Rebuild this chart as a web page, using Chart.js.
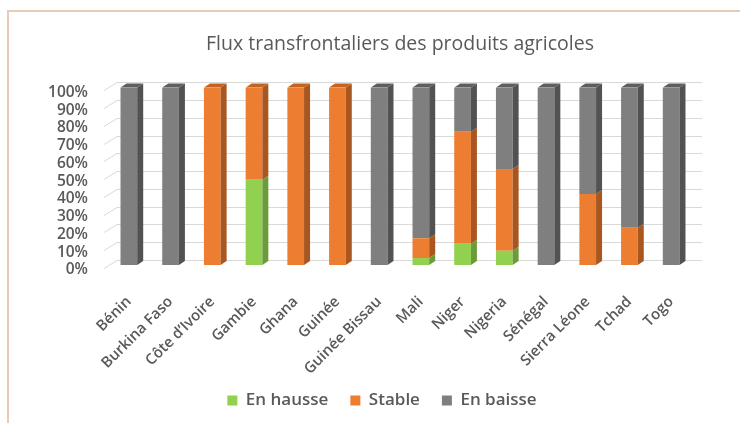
<!DOCTYPE html>
<html>
<head>
<meta charset="utf-8">
<script src="https://cdn.jsdelivr.net/npm/chart.js@4.4.1/dist/chart.umd.min.js"></script>
<style>
  body { margin: 0; background: #fff; }
  #wrap { position: relative; width: 740px; height: 423px; overflow: hidden; }
  /* le cadre pêche autour du graphique */
  #cadre { position: absolute; left: 7px; top: 10px; width: 800px; height: 500px;
    border-left: 2px solid #E8CBB7; border-top: 2px solid #E8CBB7; }
  canvas { position: absolute; left: 0; top: 0; }
</style>
</head>
<body>
<div id="wrap">
  <div id="cadre"></div>
  <canvas id="mainChart" width="740" height="423"></canvas>
</div>
<script>
// Les pays (axe X)
const pays = [`Bénin`, `Burkina Faso`, `Côte d’Ivoire`, `Gambie`, `Ghana`, `Guinée`, `Guinée Bissau`,
  `Mali`, `Niger`, `Nigeria`, `Sénégal`, `Sierra Léone`, `Tchad`, `Togo`]

// Les trois séries, en %
const enHausse = [0, 0, 0, 48, 0, 0, 0, 4, 12, 8, 0, 0, 0, 0]
const stable = [0, 0, 100, 52, 100, 100, 0, 11, 63, 46, 0, 40, 21, 0]
const enBaisse = [100, 100, 0, 0, 0, 0, 100, 85, 25, 46, 100, 60, 79, 100]

// Graduations de l'axe Y
const ticksY = [0, 10, 20, 30, 40, 50, 60, 70, 80, 90, 100]

const texte = `#595959`
const police = `'Open Sans'`
const profX = 6 // profondeur "3D" des barres
const profY = 4

// Quadrillage façon Excel 3D (mur du fond + petite diagonale à gauche)
const grille3D = {
  id: `grille3D`,
  beforeDatasetsDraw(chart) {
    const { ctx, chartArea, scales } = chart
    ctx.save()
    ctx.strokeStyle = `#D9D9D9`
    ctx.lineWidth = 1
    ticksY.forEach((v) => {
      const y = Math.round(scales.y.getPixelForValue(v)) + 0.5
      ctx.beginPath()
      ctx.moveTo(chartArea.left - 4, y + 3)
      ctx.lineTo(chartArea.left + 9, y - 5)
      ctx.lineTo(chartArea.right + 10, y - 5)
      ctx.stroke()
    })
    ctx.restore()
  },
}

// Faces latérales et dessus des barres
const barres3D = {
  id: `barres3D`,
  afterDatasetsDraw(chart) {
    const { ctx } = chart
    const cotes = [`#6C9B3A`, `#A9561F`, `#525252`]
    const dessus = [`#7DB443`, `#C4631F`, `#5E5E5E`]
    ctx.save()
    const n = chart.data.labels.length
    for (let i = 0; i < n; i++) {
      let topIdx = -1
      chart.data.datasets.forEach((ds, d) => {
        const bar = chart.getDatasetMeta(d).data[i]
        const h = bar.base - bar.y
        if (h < 0.5) return
        const right = bar.x + bar.width / 2
        ctx.fillStyle = cotes[d]
        ctx.beginPath()
        ctx.moveTo(right, bar.y)
        ctx.lineTo(right + profX, bar.y - profY)
        ctx.lineTo(right + profX, bar.base - profY)
        ctx.lineTo(right, bar.base)
        ctx.closePath()
        ctx.fill()
        topIdx = d
      })
      if (topIdx >= 0) {
        const bar = chart.getDatasetMeta(topIdx).data[i]
        const left = bar.x - bar.width / 2
        const right = bar.x + bar.width / 2
        ctx.fillStyle = dessus[topIdx]
        ctx.beginPath()
        ctx.moveTo(left, bar.y)
        ctx.lineTo(left + profX, bar.y - profY)
        ctx.lineTo(right + profX, bar.y - profY)
        ctx.lineTo(right, bar.y)
        ctx.closePath()
        ctx.fill()
      }
    }
    ctx.restore()
  },
}

// Titre et légende centrés sur toute la largeur (pas seulement sur la zone du graphe),
// et on laisse déborder les étiquettes penchées de l'axe X (sinon elles sont coupées)
const centrage = {
  id: `centrage`,
  afterLayout(chart) {
    chart.titleBlock.left = 60
    chart.titleBlock.right = 740
    chart.legend.left = 24
    chart.legend.right = 740
    chart.scales.x.bottom = chart.height
  },
}

const chart = document.getElementById(`mainChart`)

new Chart(chart, {
  type: `bar`,
  data: {
    labels: pays,
    datasets: [
      { label: `En hausse`, data: enHausse, backgroundColor: `#92D050` },
      { label: `Stable`, data: stable, backgroundColor: `#ED7D31` },
      { label: `En baisse`, data: enBaisse, backgroundColor: `#7F7F7F` },
    ],
  },
  options: {
    responsive: false,
    animation: false,
    barPercentage: 0.4,
    categoryPercentage: 1,
    layout: { padding: { top: 0, right: 48, bottom: 4, left: 0 } },
    scales: {
      x: {
        stacked: true,
        grid: { display: false },
        border: { display: false },
        ticks: {
          color: texte,
          font: { family: police, size: 15, weight: 600 },
          minRotation: 45,
          maxRotation: 45,
          autoSkip: false,
          padding: 20,
        },
        afterFit(scale) {
          scale.height = 105
        },
      },
      y: {
        stacked: true,
        min: 0,
        max: 100,
        grid: { display: false, drawTicks: false },
        border: { display: false },
        ticks: {
          stepSize: 10,
          autoSkip: false,
          color: texte,
          font: { family: police, size: 15.5, weight: 600 },
          padding: 20,
          labelOffset: 5,
          callback: (v) => v + `%`,
        },
        afterFit(scale) {
          scale.width = 108
        },
      },
    },
    plugins: {
      title: {
        display: true,
        text: `Flux transfrontaliers des produits agricoles`,
        color: texte,
        font: { family: police, size: 19.5, weight: `normal` },
        padding: { top: 33, bottom: 31 },
      },
      legend: {
        position: `bottom`,
        labels: {
          color: texte,
          font: { family: police, size: 17, weight: 600 },
          boxWidth: 10,
          boxHeight: 10,
          padding: 22,
        },
      },
      tooltip: { enabled: false },
    },
  },
  plugins: [grille3D, barres3D, centrage],
})
</script>
</body>
</html>
